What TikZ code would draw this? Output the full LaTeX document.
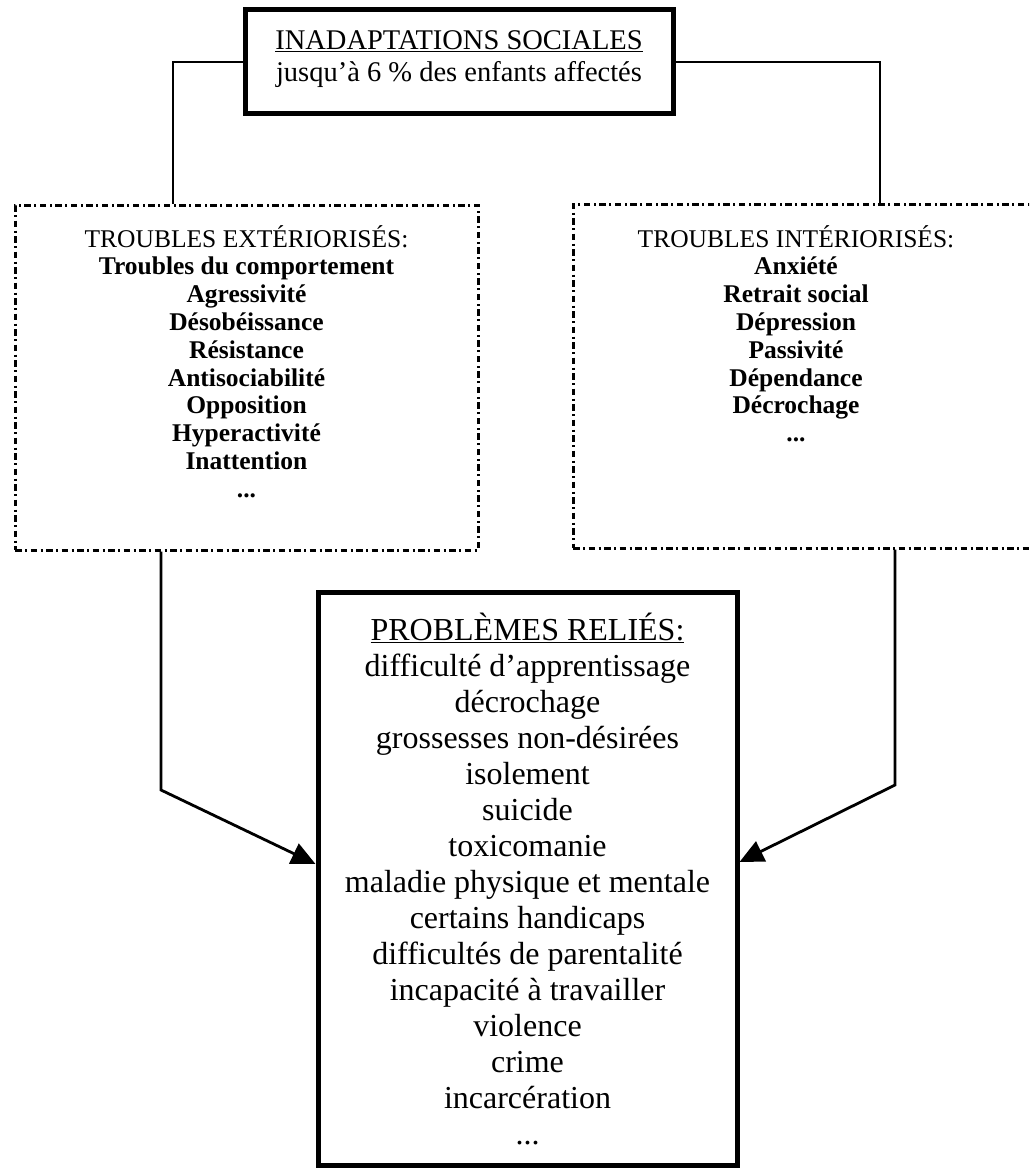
\documentclass[tikz,border=0pt]{standalone}
\usepackage{fontspec}
\setmainfont{Liberation Serif}
\usetikzlibrary{arrows.meta}
\begin{document}
\begin{tikzpicture}[x=1pt,y=-1pt,
  solidbox/.style={draw, line width=5pt, inner sep=0pt},
  dashbox/.style={draw, line width=3pt, inner sep=0pt,
    dash pattern=on 6.5pt off 3.5pt on 2pt off 3.5pt},
  boxtext/.style={align=center, inner sep=0pt},
  link/.style={line width=2.6pt},
  arr/.style={line width=2.8pt, line join=miter,
    -{Triangle[length=24pt,width=22pt]}}]
\useasboundingbox (0,0) rectangle (1029,1169);
\clip (0,0) rectangle (1029,1169);

% top box
\node[solidbox, minimum width=428pt, minimum height=104pt] (top) at (459,62) {};
\node[boxtext, font=\fontsize{28.5}{32}\selectfont] (toptxt) at ([yshift=3pt]top.center)
  {\underline{INADAPTATIONS SOCIALES}\\jusqu’à 6 \% des enfants affectés};

% externalised disorders
\node[dashbox, minimum width=463pt, minimum height=345pt] (ext) at (246.5,377.5) {};
\node[boxtext, anchor=north, font=\fontsize{25.5}{27.8}\selectfont] (exttxt) at (246.5,225)
  {TROUBLES EXTÉRIORISÉS:\\
   \textbf{Troubles du comportement}\\
   \textbf{Agressivité}\\
   \textbf{Désobéissance}\\
   \textbf{Résistance}\\
   \textbf{Antisociabilité}\\
   \textbf{Opposition}\\
   \textbf{Hyperactivité}\\
   \textbf{Inattention}\\
   \textbf{...}};

% internalised disorders
\node[dashbox, minimum width=472pt, minimum height=344pt] (int) at (809,376) {};
\node[boxtext, anchor=north, font=\fontsize{25.5}{27.8}\selectfont] (inttxt) at (796,225)
  {TROUBLES INTÉRIORISÉS:\\
   \textbf{Anxiété}\\
   \textbf{Retrait social}\\
   \textbf{Dépression}\\
   \textbf{Passivité}\\
   \textbf{Dépendance}\\
   \textbf{Décrochage}\\
   \textbf{...}};

% related problems
\node[solidbox, minimum width=419pt, minimum height=573pt] (rel) at (527.5,878.5) {};
\node[boxtext, font=\fontsize{32}{36}\selectfont] (reltxt) at (rel.center)
  {\underline{PROBLÈMES RELIÉS:}\\
   difficulté d’apprentissage\\
   décrochage\\
   grossesses non-désirées\\
   isolement\\
   suicide\\
   toxicomanie\\
   maladie physique et mentale\\
   certains handicaps\\
   difficultés de parentalité\\
   incapacité à travailler\\
   violence\\
   crime\\
   incarcération\\
   ...};

% connectors from the top box
\coordinate (lj) at (173,0);
\coordinate (rj) at (880,0);
\draw[link] (top.west) -| (ext.north -| lj);
\draw[link] (top.east) -| (int.north -| rj);

% arrows into the related problems
\coordinate (lbend) at (161,790);
\coordinate (rbend) at (895,785);
\coordinate (ltip) at (0,864);
\coordinate (rtip) at (0,862);
\draw[arr] (ext.south -| lbend) -- (lbend) -- (rel.west |- ltip);
\draw[arr] (int.south -| rbend) -- (rbend) -- (rel.east |- rtip);
\end{tikzpicture}
\end{document}
